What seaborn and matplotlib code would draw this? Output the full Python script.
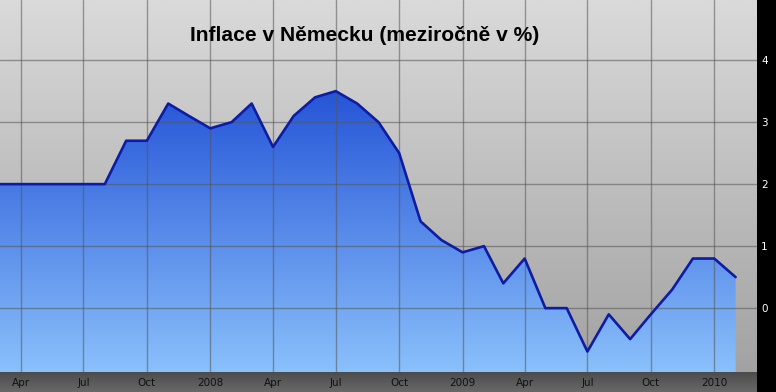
import numpy as np
import pandas as pd
import matplotlib
matplotlib.use('Agg')
import matplotlib.pyplot as plt
import seaborn as sns
from matplotlib.colors import LinearSegmentedColormap

# monthly inflation, Mar 2007 .. Feb 2010
months = pd.date_range('2007-03-01', '2010-02-01', freq='MS')
inflation = [2.0, 2.0, 2.0, 2.0, 2.0, 2.0, 2.7, 2.7, 3.3, 3.1,
             2.9, 3.0, 3.3, 2.6, 3.1, 3.4, 3.5, 3.3, 3.0, 2.5,
             1.4, 1.1, 0.9, 1.0, 0.4, 0.8, 0.0, 0.0, -0.7, -0.1,
             -0.5, -0.1, 0.3, 0.8, 0.8, 0.5]
tick_dates = pd.to_datetime(['2007-04-01', '2007-07-01', '2007-10-01', '2008-01-01',
                             '2008-04-01', '2008-07-01', '2008-10-01', '2009-01-01',
                             '2009-04-01', '2009-07-01', '2009-10-01', '2010-01-01'])
tick_labels = ['Apr', 'Jul', 'Oct', '2008', 'Apr', 'Jul', 'Oct', '2009',
               'Apr', 'Jul', 'Oct', '2010']
y_ticks = [0, 1, 2, 3, 4]

df = pd.DataFrame({'month': months, 'inflation': inflation})

sns.set_style('white')
plt.rcParams['font.family'] = ['DejaVu Sans']

W, H = 776, 392
fig = plt.figure(figsize=(W / 100, H / 100), dpi=100, facecolor='black')
ax = fig.add_axes([0, 20 / H, 757 / W, 372 / H])

ymin, ymax = -1.03, 4.97
xmin = pd.Timestamp('2007-03-02')
xmax = pd.Timestamp('2010-03-04')
ax.set_xlim(xmin, xmax)
ax.set_ylim(ymin, ymax)

# gray background gradient
bg = LinearSegmentedColormap.from_list('bg', ['#a2a2a2', '#dadada'])
ax.imshow(np.linspace(0, 1, 256).reshape(-1, 1), cmap=bg, origin='lower',
          aspect='auto', extent=[0, 1, 0, 1], transform=ax.transAxes, zorder=0)

# blue area gradient clipped to the filled region
fill = ax.fill_between(df['month'], df['inflation'], ymin, color='none', zorder=1)
blue = LinearSegmentedColormap.from_list('blue', ['#8ac0fb', '#2352d6'])
top = max(inflation) + 0.1
y1 = (top - ymin) / (ymax - ymin)
im = ax.imshow(np.linspace(0, 1, 256).reshape(-1, 1), cmap=blue, origin='lower',
               aspect='auto', extent=[0, 1, 0, y1], transform=ax.transAxes, zorder=1)
im.set_clip_path(fill.get_paths()[0], transform=ax.transData)

sns.lineplot(data=df, x='month', y='inflation', ax=ax, color='#0c1ca8',
             linewidth=1.9, zorder=3)

ax.set_xticks(tick_dates)
ax.set_xticklabels(tick_labels)
ax.set_yticks(y_ticks)
ax.grid(True, color='#555555', linewidth=1, alpha=0.55)
ax.set_axisbelow(False)
for gl in ax.get_xgridlines() + ax.get_ygridlines():
    gl.set_zorder(2)
ax.yaxis.tick_right()
ax.tick_params(axis='y', length=0, pad=3, labelsize=7.5, labelcolor='white')
ax.tick_params(axis='x', length=0, pad=4, labelsize=7.5, labelcolor='#111111')
for lbl in ax.get_yticklabels():
    lbl.set_horizontalalignment('left')
for s in ax.spines.values():
    s.set_visible(False)
ax.set_xlabel('')
ax.set_ylabel('')

# dark band under the plot for the month labels
band = fig.add_axes([0, 0, 757 / W, 20 / H], zorder=-1)
band_cm = LinearSegmentedColormap.from_list('band', ['#686868', '#4c4c4c'])
band.imshow(np.linspace(0, 1, 64).reshape(-1, 1), cmap=band_cm, origin='lower',
            aspect='auto', extent=[0, 1, 0, 1])
band.axis('off')

ax.text(0.482, 0.905, 'Inflace v Německu (meziročně v %)', transform=ax.transAxes,
        ha='center', va='center', fontsize=15.1, fontweight='bold',
        family=['Liberation Sans', 'DejaVu Sans'], color='black', zorder=5)

fig.savefig('out.png', dpi=100, facecolor='black')
